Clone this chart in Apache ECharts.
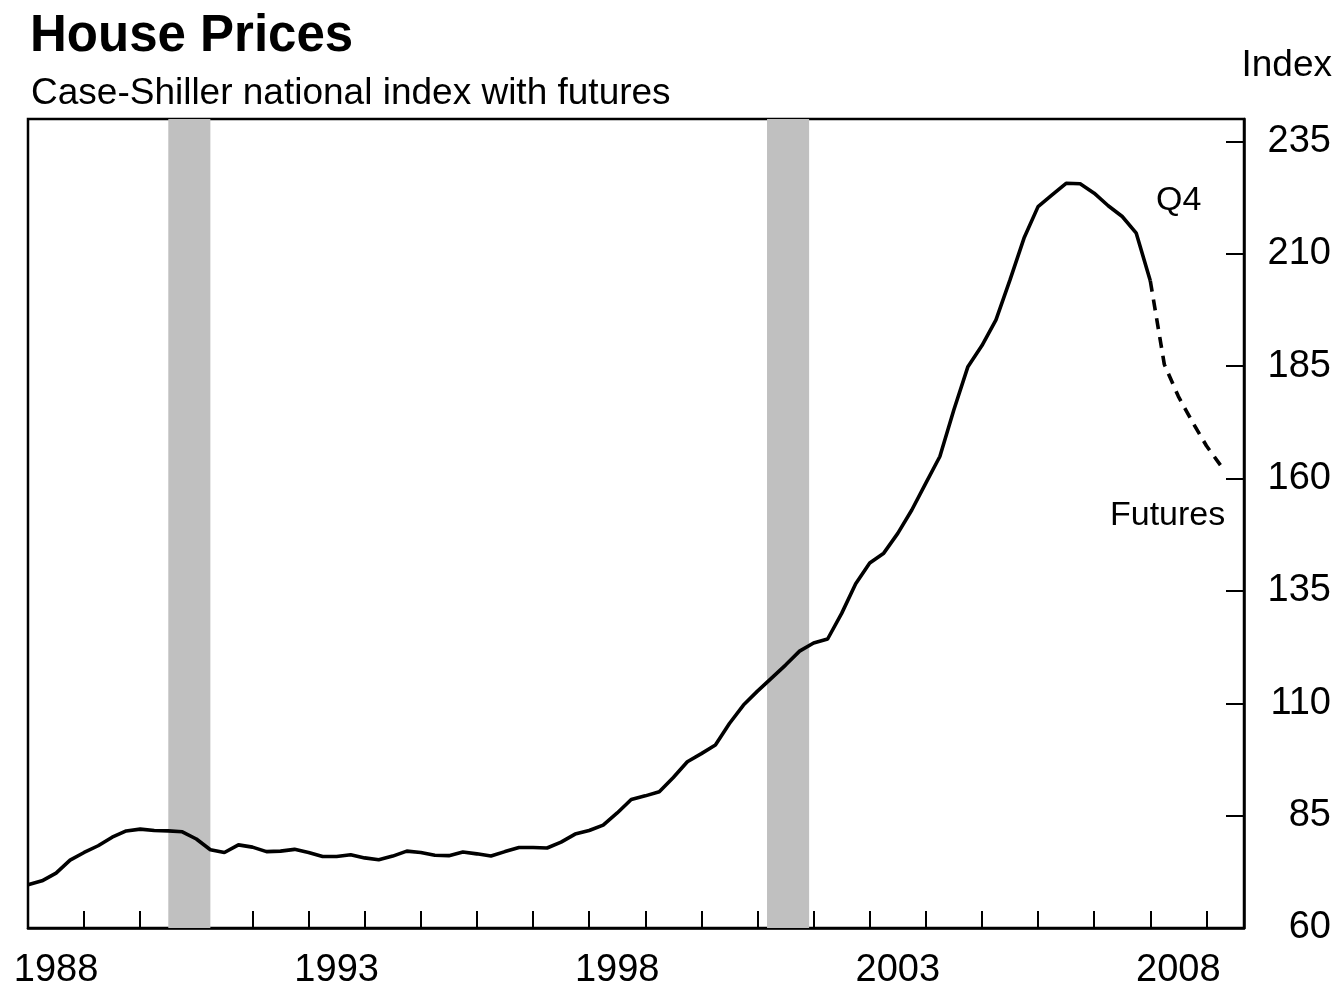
<!DOCTYPE html>
<html>
<head>
<meta charset="utf-8">
<script src="https://cdn.jsdelivr.net/npm/echarts@6/dist/echarts.min.js"></script>
<style>
html,body{margin:0;padding:0;background:#fff;}
#chart{width:1337px;height:986px;}
</style>
</head>
<body>
<div id="chart"></div>
<script>
// ---- Data ----
const startYear = 1988;           // first quarterly observation (1988 Q1)
const quarterStep = 0.25;
// Case-Shiller national index, quarterly, 1988Q1 .. 2008Q1
const houseIndex = [
  69.6, 70.5, 72.2, 75.1, 76.8, 78.3, 80.2, 81.6,
  82.0, 81.7, 81.6, 81.4, 79.8, 77.4, 76.8, 78.5,
  78.0, 77.0, 77.1, 77.5, 76.8, 75.9, 75.9, 76.3,
  75.6, 75.2, 76.0, 77.1, 76.8, 76.2, 76.1, 76.9,
  76.5, 76.0, 77.0, 77.9, 77.9, 77.8, 79.1, 80.9,
  81.7, 82.9, 85.6, 88.6, 89.4, 90.3, 93.5, 97.0,
  98.8, 100.7, 105.5, 109.6, 112.7, 115.6, 118.5, 121.6,
  123.4, 124.3, 130.0, 136.6, 141.2, 143.4, 147.8, 153.0,
  159.0, 164.9, 175.3, 184.9, 189.6, 195.3, 204.2, 213.5,
  220.5, 223.1, 225.7, 225.6, 223.5, 220.7, 218.3, 214.6,
  204.0
];
// Futures path, starting at the last actual observation
const futuresStartIndex = 80;
const futures = [204.0, 185.4, 178.3, 172.6, 167.3, 163.0];
// Recessions (start, end) in fractional years
const recessions = [[1990.5, 1991.25], [2001.17, 2001.92]];
// Axes
const xMin = 1988, xMax = 2009.67;
const xTickYears = [1989,1990,1991,1992,1993,1994,1995,1996,1997,1998,1999,2000,2001,2002,2003,2004,2005,2006,2007,2008,2009];
const xLabelYears = ['1988','1993','1998','2003','2008'];
const yMin = 60, yMax = 240;
const yTicks = [60, 85, 110, 135, 160, 185, 210, 235];
// Texts
const titleText = 'House Prices';
const subtitleText = 'Case-Shiller national index with futures';
const unitText = 'Index';
const q4Text = 'Q4';
const futuresText = 'Futures';

// ---- Build ----
const actualPts = houseIndex.map((v, i) => [startYear + i * quarterStep, v]);
const futurePts = futures.map((v, i) => [startYear + (futuresStartIndex + i) * quarterStep, v]);
const labelPos = xLabelYears.map(y => Number(y) + 0.5);

const FONT = '"Liberation Sans", Arial, Helvetica, sans-serif';
const chart = echarts.init(document.getElementById('chart'), null, {renderer: 'canvas'});
chart.setOption({
  animation: false,
  backgroundColor: '#ffffff',
  title: [
    {text: titleText, left: 30, top: 11, padding: 0,
     textStyle: {fontFamily: FONT, fontSize: 51, fontWeight: 'bold', color: '#000'}},
    {text: subtitleText, left: 31, top: 75, padding: 0,
     textStyle: {fontFamily: FONT, fontSize: 37, fontWeight: 'normal', color: '#000'}},
    {text: unitText, right: 5, top: 47, padding: 0,
     textStyle: {fontFamily: FONT, fontSize: 37, fontWeight: 'normal', color: '#000'}},
    {text: q4Text, left: 1156, top: 184, padding: 0,
     textStyle: {fontFamily: FONT, fontSize: 34, fontWeight: 'normal', color: '#000'}},
    {text: futuresText, left: 1110, top: 499, padding: 0,
     textStyle: {fontFamily: FONT, fontSize: 34, fontWeight: 'normal', color: '#000'}}
  ],
  grid: {left: 28, right: 93, top: 119, bottom: 58, show: true, containLabel: false,
         outerBoundsMode: 'none',
         borderColor: '#000', borderWidth: 2.5, backgroundColor: 'transparent'},
  xAxis: {
    type: 'value', min: xMin, max: xMax,
    axisLine: {show: true, lineStyle: {color: '#000', width: 2.5}},
    splitLine: {show: false},
    axisTick: {show: true, inside: true, length: 17, customValues: xTickYears,
               lineStyle: {color: '#000', width: 2}},
    axisLabel: {show: true, customValues: labelPos, margin: 24,
                fontFamily: FONT, fontSize: 38, color: '#000',
                formatter: v => xLabelYears[labelPos.indexOf(v)] !== undefined ? xLabelYears[labelPos.indexOf(v)] : String(Math.floor(v))}
  },
  yAxis: {
    type: 'value', position: 'right', min: yMin, max: yMax,
    axisLine: {show: true, lineStyle: {color: '#000', width: 2.5}},
    splitLine: {show: false},
    axisTick: {show: true, inside: true, length: 18, customValues: yTicks,
               lineStyle: {color: '#000', width: 2}},
    axisLabel: {show: true, customValues: yTicks, margin: 87, align: 'right',
                padding: [3, 0, 0, 0],
                fontFamily: FONT, fontSize: 38, color: '#000'}
  },
  series: [
    {
      type: 'line', name: 'Case-Shiller', data: actualPts, showSymbol: false, symbol: 'none',
      lineStyle: {color: '#000', width: 3.6}, z: 3,
      markArea: {
        silent: true,
        itemStyle: {color: '#c0c0c0'},
        data: recessions.map(r => [{xAxis: r[0]}, {xAxis: r[1]}])
      }
    },
    {
      type: 'line', name: 'Futures', data: futurePts, showSymbol: false, symbol: 'none',
      lineStyle: {color: '#000', width: 3.6, type: [11, 8]}, z: 3
    }
  ]
});
</script>
</body>
</html>
